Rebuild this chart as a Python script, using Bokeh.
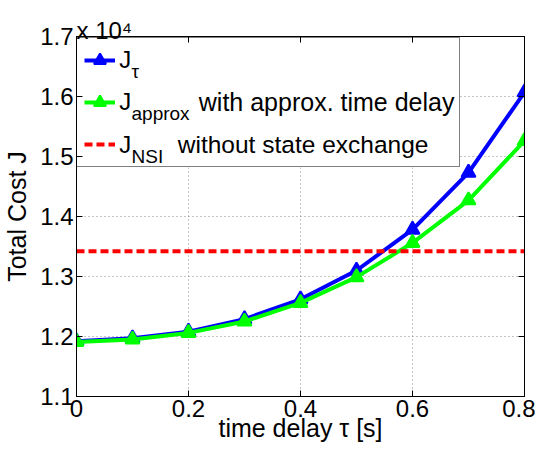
from bokeh.plotting import figure
from bokeh.models import (Legend, LegendItem, Label, LinearAxis, FixedTicker, Range1d,
                          BoxAnnotation)
from bokeh.embed import file_html
from bokeh.resources import INLINE

# ---------------- data ----------------
tau = [0.0, 0.1, 0.2, 0.3, 0.4, 0.5, 0.6, 0.7, 0.8]
J_tau = [11920, 11970, 12080, 12290, 12620, 13100, 13780, 14730, 16070]
J_approx = [11910, 11950, 12060, 12250, 12560, 12990, 13560, 14270, 15260]
J_NSI = 13420
y_scale = 1e4

x_ticks = [0.0, 0.2, 0.4, 0.6, 0.8]
x_tick_labels = ["0", "0.2", "0.4", "0.6", "0.8"]
y_ticks = [1.1, 1.2, 1.3, 1.4, 1.5, 1.6, 1.7]
y_tick_labels = ["1.1", "1.2", "1.3", "1.4", "1.5", "1.6", "1.7"]

legend_main = ["J", "J", "J"]
legend_sub = ["\u03c4", "approx", "NSI"]
legend_rest = ["", "with approx. time delay", "without state exchange"]
x_label = "time delay \u03c4 [s]"
y_label = "Total Cost J"
exp_text = "x 10\u2074"

FONT = "Liberation Sans"
BLUE = "#0000FF"
GREEN = "#00FF00"
RED = "#FF0000"

FRAME_H = 360
Y0, Y1 = 1.1, 1.7
PX = (Y1 - Y0) / FRAME_H   # data units per pixel (vertical)

# ---------------- figure ----------------
p = figure(frame_width=448, frame_height=FRAME_H,
           x_range=Range1d(0, 0.8), y_range=Range1d(Y0, Y1),
           output_backend="svg", toolbar_location=None,
           min_border_left=69, min_border_right=11,
           min_border_top=36, min_border_bottom=40)
p.outline_line_color = "black"
p.outline_line_width = 1
p.background_fill_color = "white"
p.border_fill_color = "white"

# exponent of the y values, shown above the y axis
p.title.text = exp_text
p.title.align = "left"
p.title.text_font = FONT
p.title.text_font_size = "24px"
p.title.text_font_style = "normal"
p.title.text_color = "black"
p.title.standoff = -14
p.title.offset = 0

xt = FixedTicker(ticks=x_ticks)
yt = FixedTicker(ticks=y_ticks)

for ax, tk, labs in ((p.xaxis[0], xt, x_tick_labels), (p.yaxis[0], yt, y_tick_labels)):
    ax.ticker = tk
    ax.major_label_overrides = {t: l for t, l in zip(tk.ticks, labs)}
    ax.major_tick_in = 6
    ax.major_tick_out = 0
    ax.minor_tick_line_color = None
    ax.axis_line_color = "black"
    ax.major_tick_line_color = "black"
    ax.major_label_text_font = FONT
    ax.major_label_text_font_size = "24px"
    ax.major_label_text_color = "black"
    ax.major_label_standoff = 3
    ax.axis_label_text_font = FONT
    ax.axis_label_text_font_size = "25px"
    ax.axis_label_text_font_style = "normal"
    ax.axis_label_text_color = "black"

p.xaxis[0].axis_label = x_label
p.xaxis[0].axis_label_standoff = -6
p.yaxis[0].axis_label = y_label
p.yaxis[0].axis_label_standoff = 6

# box ticks on top and right
top = LinearAxis(ticker=FixedTicker(ticks=x_ticks), major_tick_in=6, major_tick_out=0,
                 minor_tick_line_color=None, major_label_text_font_size="0px",
                 major_label_standoff=0, major_label_overrides={t: "" for t in x_ticks})
right = LinearAxis(ticker=FixedTicker(ticks=y_ticks), major_tick_in=6, major_tick_out=0,
                   minor_tick_line_color=None, major_label_text_font_size="0px",
                   major_label_standoff=0, major_label_overrides={t: "" for t in y_ticks})
p.add_layout(top, "above")
p.add_layout(right, "right")

for g, tk in ((p.xgrid[0], xt), (p.ygrid[0], yt)):
    g.ticker = tk
    g.grid_line_color = "#8c8c8c"
    g.grid_line_dash = "1 3"
    g.grid_line_width = 1

# white legend background (below the data, above the grid)
p.add_layout(BoxAnnotation(left=0, right=382, bottom=229, top=357.4,
                           left_units="screen", right_units="screen",
                           bottom_units="screen", top_units="screen",
                           level="underlay", fill_color="white", fill_alpha=1.0,
                           line_color=None))

# ---------------- series ----------------
ys_tau = [v / y_scale for v in J_tau]
ys_approx = [v / y_scale for v in J_approx]
ys_nsi = [J_NSI / y_scale for _ in tau]

l1 = p.line(tau, ys_tau, line_color=BLUE, line_width=4)
s1 = p.scatter(tau, ys_tau, marker="triangle", size=14,
               fill_color=BLUE, line_color=BLUE, line_width=2)
l2 = p.line(tau, ys_approx, line_color=GREEN, line_width=4)
s2 = p.scatter(tau, ys_approx, marker="triangle", size=14,
               fill_color=GREEN, line_color=GREEN, line_width=2)
l3 = p.line(tau, ys_nsi, line_color=RED, line_width=4, line_dash="8 4")

legend = Legend(items=[LegendItem(label=" ", renderers=[l1, s1]),
                       LegendItem(label=" ", renderers=[l2, s2]),
                       LegendItem(label=" ", renderers=[l3])],
                location=(0, 229), margin=0, padding=7, spacing=12,
                glyph_width=31, glyph_height=30, label_height=30,
                label_width=332, label_standoff=5,
                label_text_font_size="10px",
                border_line_color="black", border_line_width=1,
                background_fill_alpha=0.0)
p.add_layout(legend, "center")


def add_text(x, y_px, text, size):
    # x in pixels from the frame's left edge, y in pixels above the frame's bottom
    p.add_layout(Label(x=x, y=Y0 + y_px * PX, x_units="screen", y_units="data",
                       level="overlay", text=text, text_font=FONT, text_font_size=size,
                       text_color="black", text_baseline="alphabetic", text_align="left"))


# legend texts with subscripts
row_base = [337, 294.7, 252.5]
sub_base = [325, 282.7, 240.5]
rest_x = [0, 122.3, 101.3]
rest_size = ["24px", "25px", "24.5px"]
for i in range(3):
    add_text(42.8, row_base[i], legend_main[i], "24px")
    add_text(55.0, sub_base[i], legend_sub[i], "19px")
    if legend_rest[i]:
        add_text(rest_x[i], row_base[i], legend_rest[i], rest_size[i])

open("out.html", "w").write(file_html(p, INLINE))
